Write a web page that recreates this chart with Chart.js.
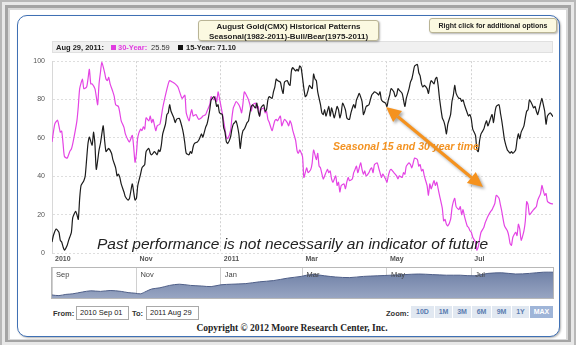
<!DOCTYPE html>
<html>
<head>
<meta charset="utf-8">
<script src="https://cdn.jsdelivr.net/npm/chart.js@4.4.0/dist/chart.umd.min.js"></script>
<style>
  body { margin:0; width:576px; height:345px; position:relative; overflow:hidden; background:#b8b8b8; font-family:"Liberation Sans", Arial, sans-serif; }
  .abs { position:absolute; }
  .box { background:#fbf9e1; border:1px solid #b9b495; border-radius:3px; box-shadow:1px 1px 2px rgba(0,0,0,0.3); color:#222; font-weight:bold; text-align:center; box-sizing:border-box; z-index:5; }
  .hdr { font-size:7.5px; font-weight:bold; top:43px; line-height:9px; color:#222; z-index:3; }
  .sq { width:5px; height:5px; top:45px; z-index:3; }
  .lbl { font-size:7.5px; font-weight:bold; color:#333; top:309px; z-index:3; }
  .inp { top:306px; height:14px; width:53px; border:1px solid #a9a9a9; box-sizing:border-box; font-size:7.5px; line-height:12px; padding-left:3px; color:#222; background:#fff; z-index:3; }
  .btn { top:306px; height:12px; background:#e1e8f1; color:#5a7cb0; font-size:7px; font-weight:bold; text-align:center; line-height:12px; z-index:3; }
</style>
</head>
<body>
<!-- grey outer frame -->
<div class="abs" style="left:2px;top:2px;width:572px;height:343px;background:#e8e8e8"></div>
<div class="abs" style="left:5px;top:5px;width:566px;height:337px;background:#a4a4a4"></div>
<div class="abs" style="left:8px;top:8px;width:560px;height:332px;background:#d8d8d8"></div>
<div class="abs" style="left:10px;top:10px;width:556px;height:329px;background:#fff"></div>
<!-- blue rounded panel -->
<div class="abs" style="left:17px;top:15px;width:543px;height:322px;box-sizing:border-box;border:1.5px solid #3f70b4;border-radius:10px;box-shadow:1px 1px 2px rgba(0,0,0,0.3);background:#fff"></div>

<div class="abs box" style="left:198px;top:20px;width:181px;height:21px;font-size:8px;line-height:9.5px;padding-top:1px">August Gold(CMX) Historical Patterns<br>Seasonal(1982-2011)-Bull/Bear(1975-2011)</div>
<div class="abs box" style="left:429px;top:18px;width:128px;height:15px;font-size:7px;line-height:13px">Right click for additional options</div>

<!-- header bar -->
<div class="abs" style="left:52px;top:41px;width:501px;height:12px;background:#f0f0f0;border:1px solid #e0e0e0;box-sizing:border-box;z-index:1"></div>
<span class="abs hdr" style="left:56px">Aug 29, 2011:</span>
<div class="abs sq" style="left:111px;background:#e03ce0"></div>
<span class="abs hdr" style="left:118px;color:#e03ce0">30-Year:</span>
<span class="abs hdr" style="left:151px;font-weight:normal;color:#333">25.59</span>
<div class="abs sq" style="left:178px;background:#111"></div>
<span class="abs hdr" style="left:186px">15-Year: 71.10</span>

<div class="abs" style="left:20px;top:50px;width:540px;height:215px;z-index:2"><canvas id="main"></canvas></div>

<div class="abs" style="left:51px;top:267px;width:503px;height:32px;border:1px solid #b8b8b8;box-sizing:border-box;z-index:1"></div>
<div class="abs" style="left:52px;top:268px;width:501px;height:30px;z-index:2"><canvas id="nav"></canvas></div>

<div class="abs" style="left:333px;top:141px;font-size:10.5px;line-height:11px;font-weight:bold;font-style:italic;color:#f39323;z-index:4;white-space:nowrap">Seasonal 15 and 30 year time</div>
<div class="abs" style="left:97px;top:236px;font-size:15.5px;line-height:15px;font-style:italic;color:#222;z-index:4;white-space:nowrap">Past performance is not necessarily an indicator of future</div>

<svg class="abs" style="left:0;top:0;z-index:4;filter:drop-shadow(2px 2px 1.5px rgba(0,0,0,0.35))" width="576" height="345">
  <line x1="397.6" y1="116.5" x2="471.4" y2="177.5" stroke="#f5921e" stroke-width="3"/>
  <polygon points="386,107 393.1,121.9 402,111.1" fill="#f5921e"/>
  <polygon points="483,187 466.9,182.9 475.8,172.1" fill="#f5921e"/>
</svg>

<span class="abs lbl" style="left:53px">From:</span>
<div class="abs inp" style="left:76px">2010 Sep 01</div>
<span class="abs lbl" style="left:132px">To:</span>
<div class="abs inp" style="left:146px">2011 Aug 29</div>
<span class="abs lbl" style="left:386px">Zoom:</span>
<div class="abs btn" style="left:411px;width:23px">10D</div>
<div class="abs btn" style="left:435px;width:17px">1M</div>
<div class="abs btn" style="left:453px;width:18px">3M</div>
<div class="abs btn" style="left:472px;width:19px">6M</div>
<div class="abs btn" style="left:492px;width:19px">9M</div>
<div class="abs btn" style="left:512px;width:17px">1Y</div>
<div class="abs btn" style="left:530px;width:23px;background:#9fb5d8;color:#fff">MAX</div>

<div class="abs" style="left:0;width:584px;top:323px;text-align:center;font-family:'Liberation Serif',serif;font-weight:bold;font-size:9.5px;color:#222;z-index:3">Copyright © 2012 Moore Research Center, Inc.</div>

<script>
// x values are days since 2010 Sep 01
const monthDays = [0, 61, 122, 181, 242, 303];
const monthLabels = ['2010', 'Nov', '2011', 'Mar', 'May', 'Jul'];
const navLabels = ['Sep', 'Nov', 'Jan', 'Mar', 'May', 'Jul'];

const days30 = [0,2,4,6,7,8,9,11,13,14,15,17,18,19,20,22,23,25,26,27,28,29,31,32,33,34,35,36,38,39,40,41,42,44,45,46,48,49,50,52,53,55,56,58,59,60,61,62,64,65,66,67,68,70,71,72,73,75,76,78,80,82,84,85,87,89,91,
  94,96,97,99,100,101,102,104,106,108,109,111,112,113,114,115,117,118,119,120,121,123,124,125,126,127,129,130,131,132,133,135,136,137,138,139,141,142,143,144,145,147,148,149,150,151,153,154,155,156,157,159,160,161,162,163,165,166,167,168,170,171,172,173,174,176,177,178,179,
  181,182,184,185,187,188,189,191,192,193,194,196,197,199,200,201,202,203,205,206,207,208,209,211,212,213,214,215,217,218,219,220,221,223,224,225,226,227,229,230,231,232,233,235,236,237,238,239,241,242,243,244,245,247,248,249,250,251,253,254,255,256,258,259,260,261,262,264,265,266,267,268,
  269,271,272,273,274,276,277,278,279,280,282,283,284,285,286,288,289,290,291,292,294,295,296,297,298,300,301,302,303,304,306,307,308,309,310,312,313,314,315,317,318,319,320,321,323,324,325,326,327,329,330,331,332,333,335,336,337,338,339,341,342,343,344,345,347,348,349,350,351,353,354,355,356,357,358,360,362];
const vals30 = [57.9,67.2,69.2,63,63.5,57,50.3,49.5,53.2,54.2,57,64.6,68.9,76.4,85.7,90.7,85.7,86.5,90.7,95.8,88.2,88.2,85.7,81.5,77.3,88.2,94.1,99.5,94.1,90.7,89.9,91.6,88.2,84,81.5,77.3,76.4,73.1,68.9,65.5,62.1,58.8,57.9,61.3,55.4,47.3,52,60.4,64.6,63.8,65.8,64.6,70.5,68.9,71.4,68,69.7,63.8,66.3,67.2,75.6,82.3,88.2,89.9,89.1,88.2,86.5,
  80.6,82.3,73.1,68.9,72.2,74.7,71.4,72.2,69.7,70.5,71.4,72.2,73.9,75.6,77.3,81.5,79.8,81.5,79,84,80.6,73.1,68.9,64.6,60.4,59.6,63.8,70.5,75.6,77.3,79,77.3,75.6,73.1,78.1,84,81.5,79.8,77.3,73.9,77.3,78.1,75.6,76.4,71.4,74.7,75.6,73.1,73.9,69.7,68,63.8,66.3,68.9,69.7,68.9,71.4,66.3,68,69.7,68,66.3,68.9,67.2,63.8,58.8,53.7,52,53.7,
  50.3,39.4,44.4,41.9,43.6,47,53.7,48.7,52,45.3,44.4,38.6,40.2,43.6,41.9,42.8,38.6,36.9,40.2,35.2,36.9,31.8,35.2,36,33.5,36.9,39.4,37.7,38.6,41.9,43.6,45.3,41.9,47,43.6,41.1,42.8,40.2,41.9,43.6,44.4,41.9,46.1,47,44.4,41.9,39.4,41.1,38.6,36.9,40.2,42.8,43.6,41.9,41.1,40.2,38.6,40.2,39.4,41.9,41.1,45.3,47,46.1,44.4,47,49.5,48.7,45.3,46.1,42.8,43.6,
  40.2,35.2,30.1,36,33.5,37.7,35.2,36.9,33.5,30.1,23.4,16.7,17.5,15,14.1,17.5,23.4,26.8,28.5,24.2,22.6,24.2,20,22.6,19.2,14.1,13.3,11.6,10.8,8.2,5.7,1.5,3.2,7.4,10.8,13.3,15.8,17.5,19.2,21.7,22.6,24.2,25.9,30.1,28.5,25.1,21.7,17.5,14.1,11.6,9.1,4.9,4,8.2,10.8,9.1,15,12.5,6.6,11.6,16.7,26.8,25.1,20,21.7,22.6,23.4,24.2,27.6,31,35.2,32.5,30.1,31,26.8,25.9,25.59];

const days15 = [0,1,3,5,6,7,8,9,11,12,14,15,17,18,19,20,21,23,24,25,26,27,29,30,31,32,34,35,36,37,38,39,40,41,43,44,46,47,48,49,50,52,53,55,56,58,59,60,61,62,64,65,66,67,68,70,71,72,73,74,76,77,78,79,80,82,83,84,85,86,88,89,90,92,
  94,95,96,97,99,100,101,102,103,105,106,107,108,109,111,112,113,114,115,117,118,119,120,121,123,124,125,126,127,129,130,131,132,133,135,136,137,138,139,141,142,143,144,145,147,148,149,150,151,153,154,155,156,157,159,160,161,162,163,165,166,167,168,170,171,172,173,174,176,177,178,179,180,
  182,183,184,185,186,188,189,190,191,192,194,195,196,197,198,200,201,202,203,204,206,207,208,209,210,212,213,214,215,216,218,219,220,221,222,224,225,226,227,229,230,231,232,233,235,236,237,238,239,241,242,243,244,245,247,248,249,250,251,253,254,255,256,258,259,260,261,262,264,265,266,267,268,269,
  271,272,273,274,276,277,278,279,280,282,283,284,285,286,288,289,290,291,292,294,295,296,297,298,300,301,302,303,304,306,307,308,309,310,312,313,314,315,317,318,319,320,321,323,324,325,326,327,329,330,331,332,333,335,336,337,338,339,341,342,343,344,345,347,348,349,350,351,353,354,355,356,357,358,360,362];
const vals15 = [5.7,9.1,12.5,10.8,6.6,5.7,3.2,1.5,4,6.6,10.8,18.4,21.7,20,17.5,28.5,35.2,37.7,40.2,48.7,57.1,60.4,56.2,63,57.1,43.6,53.7,57.1,62.1,66.3,58.8,52.9,53.7,54.5,52,48.7,44.4,40.2,41.1,39.4,36,31.8,29.3,27.6,28.5,36,31.8,27.6,28.5,35.2,41.1,44.4,45.3,46.1,52.9,54.5,52,51.2,52,52.9,51.2,53.7,52.9,56.2,62.1,67.2,72.2,73.1,77.3,73.9,70.5,68,69.7,70.2,
  65.5,62.1,57.1,52,51.2,52.9,52,55.4,57.1,57.9,58.8,60.4,62.1,60.4,65.5,67.2,70.5,74.7,79.8,81.5,79.8,76.4,77.3,73.1,72.2,65.5,63,57.9,57.1,60.4,64.6,67.2,68,68.9,62.1,54.5,60.4,63.8,64.6,68,68.9,73.1,76.4,77.3,75.6,78.1,73.9,71.4,75.6,77.3,73.9,74.7,79.8,81.5,80.6,84,86.5,90.7,89.9,89.1,85.7,83.2,89.1,89.9,88.2,87.4,94.9,96.6,94.9,95.8,94.9,97.5,96.6,
  85.7,81.5,82.3,84.8,87.4,85.7,93.3,90.7,89.9,84,77.3,73.1,72.2,74.7,71.4,76.4,71.4,75.6,73.1,70.5,76.4,74.7,70.5,73.1,78.1,74.7,70.5,69.7,69.7,73.1,77.3,75.6,79.8,81.5,83.2,79,72.2,73.9,76.4,77.3,79.8,82.3,83.2,84,83.2,82.3,84,79.8,79,78.1,76.4,79.8,82.3,85.7,84,81.5,82.3,85.7,84.8,83.2,79.8,76.4,80.6,85.7,89.1,90.7,94.1,97.5,98.3,94.1,92.4,88.2,86.5,87.4,
  85.7,83.2,87.4,89.9,88.2,90.7,91.6,87.4,80.6,70.5,68.9,66.3,62.1,67.2,72.2,79,82.3,87.4,83.2,80.6,80.6,79,79.8,77.3,73.1,71.4,72.2,69.7,64.6,61.3,53.7,52.9,58.8,62.1,64.6,67.2,68.9,66.3,70.5,72.2,68,73.1,76.4,77.3,73.1,68.9,63.8,58.8,53.7,52.9,52,52.9,52,53.7,58.8,62.1,59.6,63,66.3,70.5,73.9,74.7,79.8,77.3,75.6,76.4,73.9,72.2,78.1,80.6,77.3,73.9,67.2,71.4,73.1,71.1];

// navigator series (percent of navigator height)
const navDays = [0,5,10,15,22,28,35,42,50,55,60,64,68,72,78,85,92,100,108,115,122,130,140,150,160,170,180,184,190,197,205,215,225,235,245,255,265,275,285,295,305,315,325,335,345,355,362];
const navVals = [10,8,12,14,20,24,22,25,22,18,16,14,22,30,34,42,46,42,40,38,44,46,48,54,58,66,72,76,78,74,70,68,72,74,76,78,80,78,76,76,74,82,84,80,82,86,86];

const pts = (d, v) => d.map((x, i) => ({ x: x, y: v[i] }));
const monthTicks = s => { s.ticks = monthDays.map(v => ({ value: v })); };

new Chart(document.getElementById('main'), {
  type: 'line',
  data: {
    datasets: [
      { label: '15-Year', data: pts(days15, vals15), borderColor: '#1c1c1c', borderWidth: 1.2, pointRadius: 0, tension: 0.2 },
      { label: '30-Year', data: pts(days30, vals30), borderColor: '#e444e4', borderWidth: 1.2, pointRadius: 0, tension: 0.2 }
    ]
  },
  options: {
    responsive: true, maintainAspectRatio: false, animation: false,
    layout: { padding: { left: 0, right: 7, top: 5, bottom: 0 } },
    plugins: { legend: { display: false }, tooltip: { enabled: false } },
    scales: {
      x: {
        type: 'linear', min: 0, max: 362,
        afterBuildTicks: monthTicks,
        afterFit: s => { s.height = 12; },
        ticks: { callback: v => monthLabels[monthDays.indexOf(v)], align: 'start', labelOffset: 3, padding: 2, maxRotation: 0, autoSkip: false,
                 color: '#555', font: { family: 'Liberation Sans', size: 7, weight: 'bold' } },
        grid: { color: '#d2d2d2', drawTicks: false },
        border: { display: false, dash: [2, 2] }
      },
      y: {
        min: 0, max: 100,
        afterFit: s => { s.width = 32; },
        ticks: { stepSize: 20, padding: 7, color: '#555', font: { family: 'Liberation Sans', size: 7 } },
        grid: { color: '#dedede', drawTicks: false },
        border: { display: true, color: '#d8d8d8', dash: [2, 2] }
      }
    }
  }
});

const navLabelPlugin = {
  id: 'navLabels',
  afterDatasetsDraw(chart) {
    const { ctx, chartArea } = chart;
    const x = chart.scales.x;
    ctx.save();
    ctx.font = '7.5px "Liberation Sans"';
    ctx.fillStyle = '#444';
    ctx.textBaseline = 'top';
    monthDays.forEach((d, i) => ctx.fillText(navLabels[i], x.getPixelForValue(d) + 4, chartArea.top + 3));
    ctx.restore();
  }
};

new Chart(document.getElementById('nav'), {
  type: 'line',
  data: {
    datasets: [{
      data: pts(navDays, navVals), borderColor: '#4f5f88', borderWidth: 1, pointRadius: 0, tension: 0.3, fill: 'start',
      backgroundColor: c => {
        const a = c.chart.chartArea;
        if (!a) return '#8493b3';
        const g = c.chart.ctx.createLinearGradient(0, a.top, 0, a.bottom);
        g.addColorStop(0, '#6a7ca3');
        g.addColorStop(1, '#98a5c2');
        return g;
      }
    }]
  },
  options: {
    responsive: true, maintainAspectRatio: false, animation: false,
    layout: { padding: 0 },
    plugins: { legend: { display: false }, tooltip: { enabled: false } },
    scales: {
      x: { type: 'linear', min: 0, max: 362, afterBuildTicks: monthTicks, afterFit: s => { s.height = 0; },
           ticks: { display: false }, grid: { color: '#d0d0d0', drawTicks: false }, border: { display: false } },
      y: { display: false, min: 0, max: 100 }
    }
  },
  plugins: [navLabelPlugin]
});
</script>
</body>
</html>
